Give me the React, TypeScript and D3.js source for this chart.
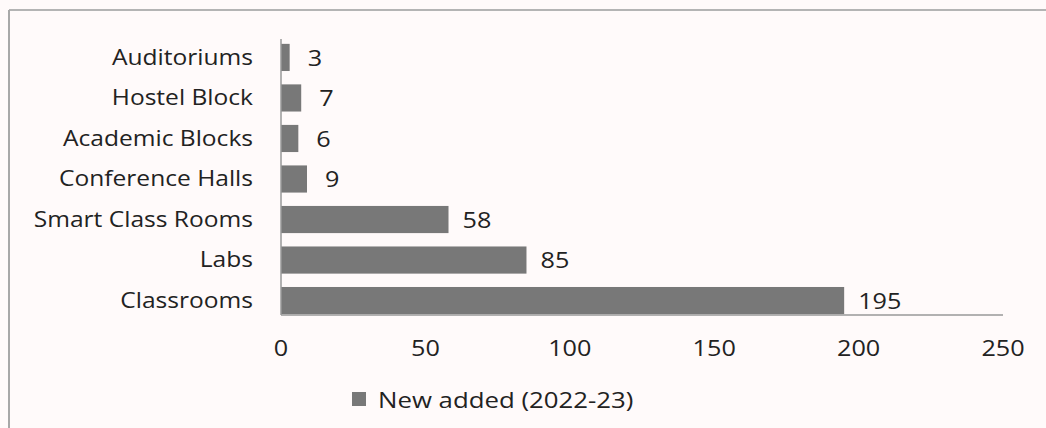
import React from "react";
import * as d3 from "d3";

const categories = ["Auditoriums", "Hostel Block", "Academic Blocks", "Conference Halls", "Smart Class Rooms", "Labs", "Classrooms"];
const values = [3, 7, 6, 9, 58, 85, 195];
const xTicks = [0, 50, 100, 150, 200, 250];
const seriesName = "New added (2022-23)";

const W = 1046, H = 428;
const FONT = "'Open Sans', sans-serif";
const BAR = "#787878";
const TEXT = "#222";

function T({ x, y, anchor = "start", size = 21, sx = 1.2, children }: { x: number; y: number; anchor?: string; size?: number; sx?: number; children: React.ReactNode }) {
  return (
    <text transform={`translate(${x},${y}) scale(${sx},1)`} dy="0.35em" textAnchor={anchor} fontFamily={FONT} fontSize={size} fill={TEXT}>
      {children}
    </text>
  );
}

export default function App() {
  const x = d3.scaleLinear().domain([0, 250]).range([281, 1003]);
  const y = d3.scaleBand<string>().domain(categories).range([39, 319]).paddingInner(0.33).paddingOuter(0.12);
  const bottom = 315;
  return (
    <svg width={W} height={H} style={{ position: "absolute", left: 0, top: 0, background: "#fffafa" }}>
      <rect x={0} y={0} width={W} height={H} fill="#fffafa" />
      <line x1={9} x2={W} y1={10} y2={10} stroke="#b4b4b4" strokeWidth={2} />
      <line x1={9} x2={9} y1={10} y2={H} stroke="#a8a8a8" strokeWidth={2} />
      {categories.map((c, i) => (
        <g key={c}>
          <rect x={x(0)} y={y(c)!} width={x(values[i]) - x(0)} height={y.bandwidth()} fill={BAR} />
          <T x={253} y={y(c)! + y.bandwidth() / 2} anchor="end" sx={1.17}>{c}</T>
          <T x={x(values[i]) + (values[i] < 20 ? 18 : 14)} y={y(c)! + y.bandwidth() / 2 + 1}>{values[i]}</T>
        </g>
      ))}
      <line x1={x(0)} x2={x(0)} y1={39} y2={bottom} stroke="#999" strokeWidth={1.5} />
      <line x1={x(0)} x2={x(250)} y1={bottom} y2={bottom} stroke="#999" strokeWidth={1.5} />
      {xTicks.map(t => (
        <T key={t} x={x(t)} y={349} anchor="middle">{t}</T>
      ))}
      <rect x={352} y={392} width={14} height={14} fill={BAR} />
      <T x={378} y={400} size={21.5}>{seriesName}</T>
    </svg>
  );
}
